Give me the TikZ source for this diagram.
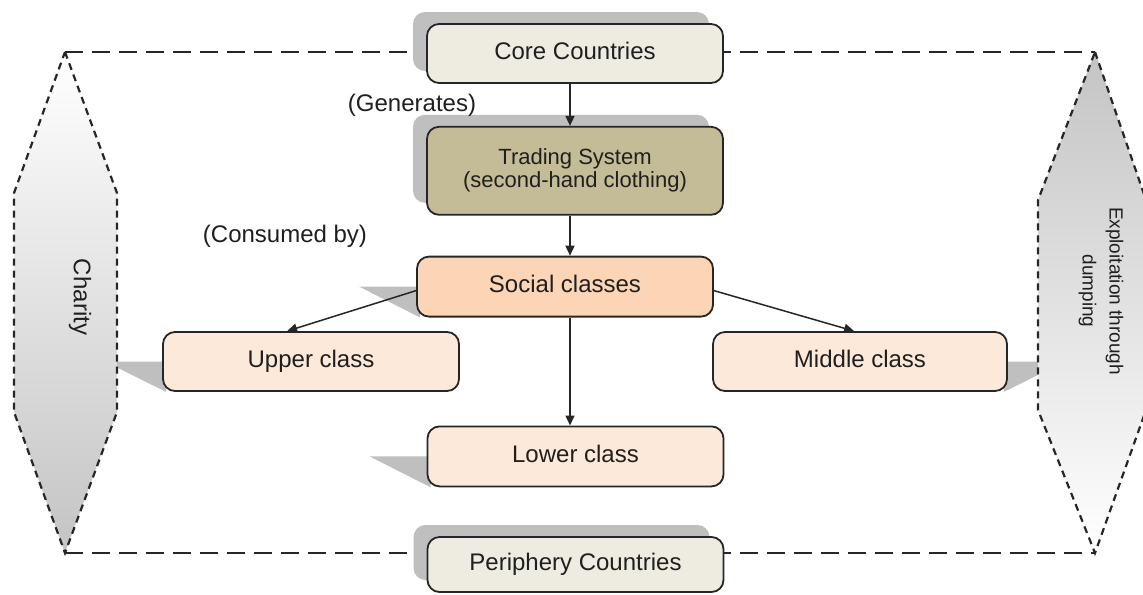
\documentclass[tikz,border=0pt]{standalone}
\usepackage{fontspec}
\setmainfont{Liberation Sans}
\usetikzlibrary{arrows.meta,positioning,calc,backgrounds,shadows}

\definecolor{coreclr}{RGB}{238,236,225}
\definecolor{tradeclr}{RGB}{196,188,150}
\definecolor{socialclr}{RGB}{251,213,181}
\definecolor{classclr}{RGB}{253,233,217}
\definecolor{edgeclr}{RGB}{38,38,38}
\definecolor{sdwclr}{RGB}{191,191,191}
\definecolor{hexclr}{RGB}{196,196,196}

\begin{document}
\begin{tikzpicture}[
    x=0.5pt, y=-0.5pt,
    font=\fontsize{12}{14}\selectfont,
    text=black!88,
    >={Triangle[length=5pt, width=4.5pt]},
    box/.style      ={rectangle, rounded corners=6pt, draw=edgeclr, line width=0.9pt,
                      minimum width=148pt, minimum height=30pt, align=center,
                      inner sep=2pt},
    oneline/.style  ={text height=1.6ex, text depth=0.45ex},
    countrybox/.style={box, fill=coreclr, minimum height=29.5pt,
                      drop shadow={shadow xshift=-7pt, shadow yshift=6pt,
                                   fill=sdwclr, opacity=1}},
    tradebox/.style ={countrybox, fill=tradeclr, minimum height=44pt,
                      font=\fontsize{11}{11.5}\selectfont},
    socialbox/.style={box, oneline, fill=socialclr},
    classbox/.style ={box, oneline, fill=classclr, minimum height=29.5pt},
    sdw/.style      ={fill=sdwclr},
    flow/.style     ={->, line width=0.75pt, draw=edgeclr},
    frame/.style    ={draw=edgeclr, line width=1.4pt, dash pattern=on 9pt off 4.5pt},
    hexline/.style  ={draw=edgeclr, line width=1.1pt, dash pattern=on 3.5pt off 2.5pt},
    sidelbl/.style  ={rotate=-90, align=center},
]
\useasboundingbox (0,0) rectangle (1143,594);

% ----------------------------------------------------------------------
%  main chain : core -> trading system -> social classes
% ----------------------------------------------------------------------
\node[countrybox, oneline] (core) at (575,53.5) {Core Countries};
\node[tradebox, below=21pt of core] (trade)
        {Trading System\\(second-hand clothing)};
\node[socialbox, below=20pt of trade, xshift=-5pt] (social) {Social classes};

% --- the three classes ---
\node[classbox] (upper) at (311,361.5) {Upper class};
\node[classbox, minimum width=147pt] (middle) at (860,361.5) {Middle class};
\node[classbox, minimum height=30pt, below=54pt of social, xshift=5.25pt] (lower)
        {Lower class};

\node[countrybox, oneline, minimum height=27.5pt] (periph) at (575.5,564.5)
        {Periphery Countries};

% --- edge labels ---
\node (generates) at (412,105) {(Generates)};
\node (consumed)  at (285,236) {(Consumed by)};

% --- edges ---
\coordinate (axis) at (570,0);
\draw[flow] (core.south -| axis)   -- (trade.north -| axis);
\draw[flow] (trade.south -| axis)  -- (social.north -| axis);
\draw[flow] (social.south -| axis) -- (lower.north -| axis);
\draw[flow] ($(social.west)+(0,4)$) -- ($(upper.north west)+(125,0)$);
\draw[flow] ($(social.east)+(0,4)$) -- ($(middle.north west)+(142,0)$);

% --- side labels ---
\node[sidelbl, font=\fontsize{12}{14}\selectfont] (charity) at (80,297) {Charity};
\node[sidelbl, font=\fontsize{9.5}{13.5}\selectfont] (exploit) at (1101,291)
        {Exploitation through\\dumping};

% ----------------------------------------------------------------------
%  background : frame, slanted shadows, side hexagons
% ----------------------------------------------------------------------
\coordinate (frameNW) at (65,52);
\coordinate (frameNE) at (1095,52);
\coordinate (frameSW) at (65,553);
\coordinate (frameSE) at (1095,553);

\begin{scope}[on background layer]
  \draw[frame] (frameNW) -- (frameNE);
  \draw[frame] (frameSW) -- (frameSE);

  \fill[sdw] ($(social.west)+(-57,0)$) -- ($(social.west)+(4,0)$)
        -- ($(social.south west)+(4,0)$) -- cycle;
  \fill[sdw] ($(upper.west)+(-57,0)$) -- ($(upper.west)+(4,0)$)
        -- ($(upper.south west)+(4,0)$) -- cycle;
  \fill[sdw] ($(lower.west)+(-57,0)$) -- ($(lower.west)+(4,0)$)
        -- ($(lower.south west)+(4,0)$) -- cycle;
  \fill[sdw] ($(middle.east)+(57,0)$) -- ($(middle.east)+(-4,0)$)
        -- ($(middle.south east)+(-4,0)$) -- cycle;

  \shadedraw[hexline, top color=white, bottom color=hexclr]
        (frameNW) -- (117,193) -- (117,412) -- (frameSW)
        -- (14,412) -- (14,193) -- cycle;
  \shadedraw[hexline, top color=hexclr, bottom color=white]
        (frameNE) -- (1146,200) -- (1146,410) -- (frameSE)
        -- (1038,410) -- (1038,200) -- cycle;
\end{scope}

\end{tikzpicture}
\end{document}
